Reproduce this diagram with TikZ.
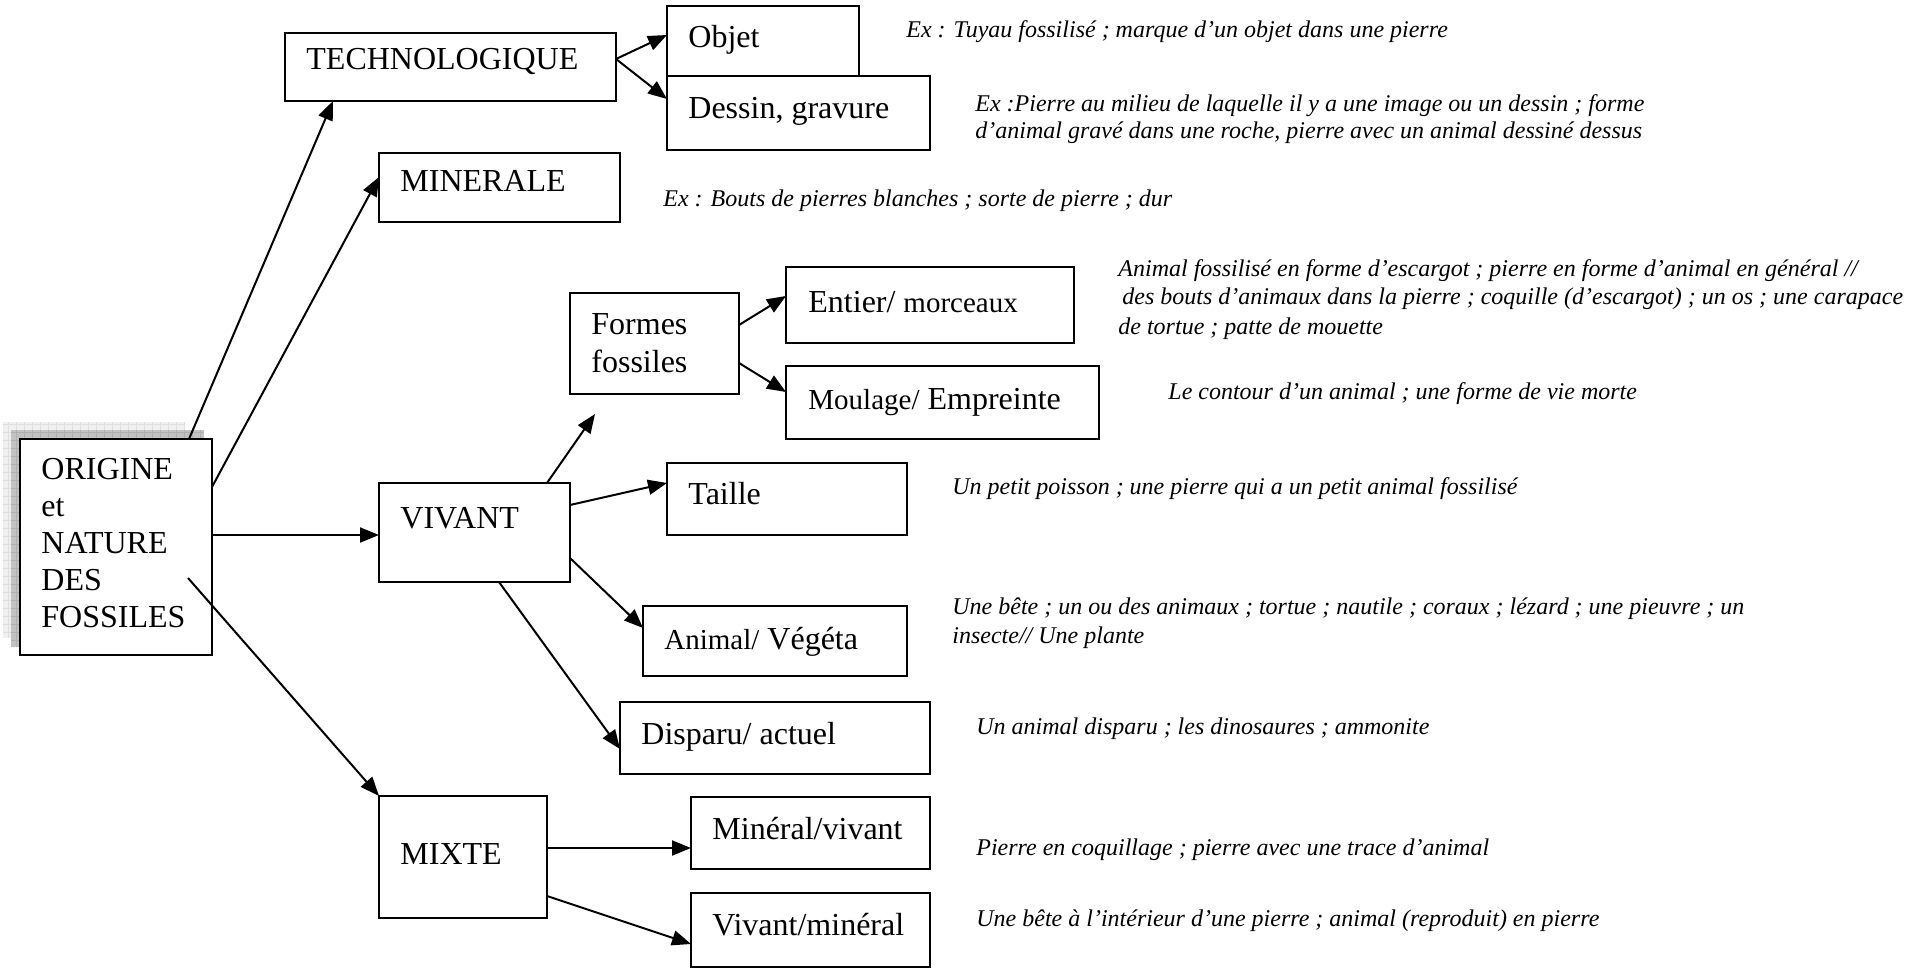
\documentclass[tikz,border=0pt]{standalone}
\usepackage{fontspec}
\setmainfont{Liberation Serif}
\usetikzlibrary{arrows.meta,calc}
\newcommand\bxfont{\fontsize{16}{18}\selectfont}
\newcommand\smfont{\fontsize{14.5}{16}\selectfont}
\newcommand\notefont{\fontsize{12}{14}\selectfont\itshape}
\begin{document}
\begin{tikzpicture}[x=0.5pt,y=-0.5pt,
  box/.style 2 args={draw, fill=white, line width=0.9pt, minimum width=#1*0.5pt, minimum height=#2*0.5pt, anchor=north west, inner sep=0pt, outer sep=0pt},
  lbl/.style 2 args={anchor=base west, xshift=#1*0.5pt, yshift=-#2*0.5pt, inner sep=0pt, font=\bxfont},
  note/.style={anchor=base west, inner sep=0pt, font=\notefont},
  arr/.style={line width=1pt, -{Triangle[length=9.5pt,width=7.5pt]}}]
\useasboundingbox (0,0) rectangle (1932,968);
\fill[white] (0,0) rectangle (1932,968);
% shadow of the main box
\fill[gray!12] (3,422) rectangle (185,638);
\draw[gray!25, line width=0.3pt, step=4pt] (3,422) grid (185,638);
\fill[gray!48] (11,430) rectangle (204,647);
\draw[gray!62, line width=0.3pt, step=4pt] (11,430) grid (204,647);
% boxes
\node[box={192}{216}, label={[lbl={21}{40}]north west:ORIGINE}, label={[lbl={21}{77}]north west:et}, label={[lbl={21}{114}]north west:NATURE}, label={[lbl={21}{151}]north west:DES}, label={[lbl={21}{188}]north west:FOSSILES}] (orig) at (20,439) {};
\node[box={331}{68}, label={[lbl={21}{37}]north west:TECHNOLOGIQUE}] (tech) at (285,33) {};
\node[box={192}{74}, label={[lbl={21}{42}]north west:Objet}] (objet) at (667,6) {};
\node[box={263}{74}, label={[lbl={21}{43}]north west:Dessin, gravure}] (dessin) at (667,76) {};
\node[box={241}{69}, label={[lbl={21}{39}]north west:MINERALE}] (miner) at (379,153) {};
\node[box={169}{101}, label={[lbl={21}{42}]north west:Formes}, label={[lbl={21}{79}]north west:fossiles}] (formes) at (570,293) {};
\node[box={288}{76}, label={[lbl={22}{46}]north west:Entier/ {\smfont morceaux}}] (entier) at (786,267) {};
\node[box={313}{73}, label={[lbl={22}{43}]north west:{\smfont Moulage/} Empreinte}] (moulage) at (786,366) {};
\node[box={191}{99}, label={[lbl={21}{45}]north west:VIVANT}] (vivant) at (379,483) {};
\node[box={240}{72}, label={[lbl={21}{41}]north west:Taille}] (taille) at (667,463) {};
\node[box={264}{70}, label={[lbl={21}{43}]north west:{\smfont Animal/} Végéta}] (animal) at (643,606) {};
\node[box={310}{72}, label={[lbl={21}{42}]north west:Disparu/ actuel}] (disparu) at (620,702) {};
\node[box={168}{122}, label={[lbl={21}{68}]north west:MIXTE}] (mixte) at (379,796) {};
\node[box={239}{72}, label={[lbl={21}{42}]north west:Minéral/vivant}] (minviv) at (691,797) {};
\node[box={239}{74}, label={[lbl={21}{42}]north west:Vivant/minéral}] (vivmin) at (691,893) {};
% notes
\node[note] (n1) at (906,38) {Ex : Tuyau fossilisé ; marque d’un objet dans une pierre};
\node[note] (n2a) at (975,112) {Ex :Pierre au milieu de laquelle il y a une image ou un dessin ; forme};
\node[note] (n2b) at (975,139) {d’animal gravé dans une roche, pierre avec un animal dessiné dessus};
\node[note] (n3) at (663,207) {Ex : Bouts de pierres blanches ; sorte de pierre ; dur};
\node[note] (n4a) at (1118,277) {Animal fossilisé en forme d’escargot ; pierre en forme d’animal en général //};
\node[note] (n4b) at (1122,305) {des bouts d’animaux dans la pierre ; coquille (d’escargot) ; un os ; une carapace};
\node[note] (n4c) at (1118,334) {de tortue ; patte de mouette};
\node[note] (n5) at (1168,399) {Le contour d’un animal ; une forme de vie morte};
\node[note] (n6) at (952,494) {Un petit poisson ; une pierre qui a un petit animal fossilisé};
\node[note] (n7a) at (952,614) {Une bête ; un ou des animaux ; tortue ; nautile ; coraux ; lézard ; une pieuvre ; un};
\node[note] (n7b) at (952,643) {insecte// Une plante};
\node[note] (n8) at (976,734) {Un animal disparu ; les dinosaures ; ammonite};
\node[note] (n9) at (976,855) {Pierre en coquillage ; pierre avec une trace d’animal};
\node[note] (n10) at (976,926) {Une bête à l’intérieur d’une pierre ; animal (reproduit) en pierre};
% connectors
\coordinate (fbelow) at ($(formes.south west)+(25,20)$);
\draw[arr] ($(orig.north west)+(169,0)$) -- ($(tech.south west)+(48,0)$);
\draw[arr] ($(orig.north east)+(0,48)$) -- ($(miner.north west)+(0,24)$);
\draw[arr] ($(orig.north east)+(0,96)$) -- ($(vivant.north west)+(0,52)$);
\draw[arr] ($(orig.north west)+(168,139)$) -- (mixte.north west);
\draw[arr] ($(tech.north east)+(0,26)$) -- ($(objet.north west)+(0,29)$);
\draw[arr] ($(tech.north east)+(0,26)$) -- ($(dessin.north west)+(0,23)$);
\draw[arr] ($(formes.north east)+(0,32)$) -- ($(entier.north west)+(0,29)$);
\draw[arr] ($(formes.north east)+(0,70)$) -- ($(moulage.north west)+(0,26)$);
\draw[arr] ($(vivant.north west)+(168,0)$) -- (fbelow);
\draw[arr] ($(vivant.north east)+(0,22)$) -- ($(taille.north west)+(0,20)$);
\draw[arr] ($(vivant.north east)+(0,75)$) -- ($(animal.north west)+(0,22)$);
\draw[arr] ($(vivant.south west)+(120,0)$) -- ($(disparu.north west)+(0,47)$);
\draw[arr] ($(mixte.north east)+(0,52)$) -- ($(minviv.north west)+(0,51)$);
\draw[arr] ($(mixte.north east)+(0,100)$) -- ($(vivmin.north west)+(0,51)$);
\end{tikzpicture}
\end{document}
